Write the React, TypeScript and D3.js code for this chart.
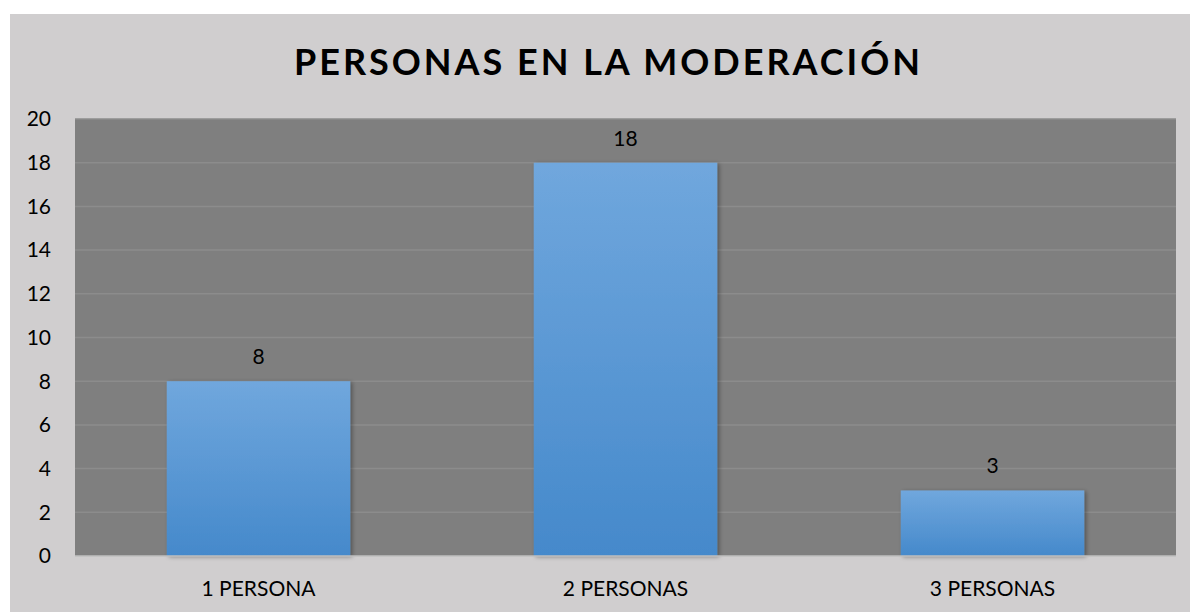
import React from "react";
import * as d3 from "d3";

const categories = ["1 PERSONA", "2 PERSONAS", "3 PERSONAS"];
const values = [8, 18, 3];
const yTicks = [0, 2, 4, 6, 8, 10, 12, 14, 16, 18, 20];

const App = () => {
  const width = 1190;
  const height = 612;
  const plot = { left: 75, top: 119, right: 1176, bottom: 556 };

  const x = d3
    .scaleBand()
    .domain(categories)
    .range([plot.left, plot.right])
    .paddingInner(0.5)
    .paddingOuter(0.25);

  const y = d3.scaleLinear().domain([0, 20]).range([plot.bottom, plot.top]);

  const font = "Lato, 'Open Sans', 'Noto Sans', sans-serif";

  return (
    <svg
      width={width}
      height={height}
      style={{ position: "absolute", left: 0, top: 0 }}
    >
      <defs>
        <linearGradient id="barFill" x1="0" y1="0" x2="0" y2="1">
          <stop offset="0%" stopColor="#70a7dd" />
          <stop offset="100%" stopColor="#4589cb" />
        </linearGradient>
        <filter id="shadow" x="-10%" y="-10%" width="130%" height="130%">
          <feDropShadow dx="2" dy="1" stdDeviation="2" floodColor="#000" floodOpacity="0.35" />
        </filter>
      </defs>
      <rect x={10} y={14} width={width - 10} height={height - 14} fill="#d0cecf" />
      <rect
        x={plot.left}
        y={plot.top}
        width={plot.right - plot.left}
        height={plot.bottom - plot.top}
        fill="#7f7f7f"
      />
      {/* gridlines */}
      {yTicks
        .filter((t) => t > 0)
        .map((t) => (
          <line
            key={t}
            x1={plot.left}
            x2={plot.right}
            y1={y(t)}
            y2={y(t)}
            stroke="#8c8c8c"
            strokeWidth={1.5}
          />
        ))}
      {/* bars */}
      {values.map((v, i) => (
        <rect
          key={categories[i]}
          x={x(categories[i])}
          y={y(v)}
          width={x.bandwidth()}
          height={plot.bottom - y(v)}
          fill="url(#barFill)"
          filter="url(#shadow)"
        />
      ))}
      <line
        x1={plot.left}
        x2={plot.right}
        y1={plot.bottom}
        y2={plot.bottom}
        stroke="#bfbfbf"
        strokeWidth={1.5}
      />
      {/* y tick labels */}
      {yTicks.map((t) => (
        <text
          key={t}
          x={51}
          y={y(t)}
          dy="0.35em"
          textAnchor="end"
          fontFamily={font}
          fontSize={21}
          fill="#000"
        >
          {t}
        </text>
      ))}
      {/* category labels */}
      {categories.map((c) => (
        <text
          key={c}
          x={(x(c) ?? 0) + x.bandwidth() / 2}
          y={596}
          textAnchor="middle"
          fontFamily={font}
          fontSize={21}
          fill="#000"
        >
          {c}
        </text>
      ))}
      {/* value labels */}
      {values.map((v, i) => (
        <text
          key={categories[i]}
          x={(x(categories[i]) ?? 0) + x.bandwidth() / 2}
          y={y(v) - 17}
          textAnchor="middle"
          fontFamily={font}
          fontSize={21}
          fill="#000"
        >
          {v}
        </text>
      ))}
      <text
        x={607}
        y={75}
        textAnchor="middle"
        fontFamily={font}
        fontSize={36}
        fontWeight="bold"
        textLength={626}
        lengthAdjust="spacing"
        fill="#000"
      >
        PERSONAS EN LA MODERACIÓN
      </text>
    </svg>
  );
};

export default App;
